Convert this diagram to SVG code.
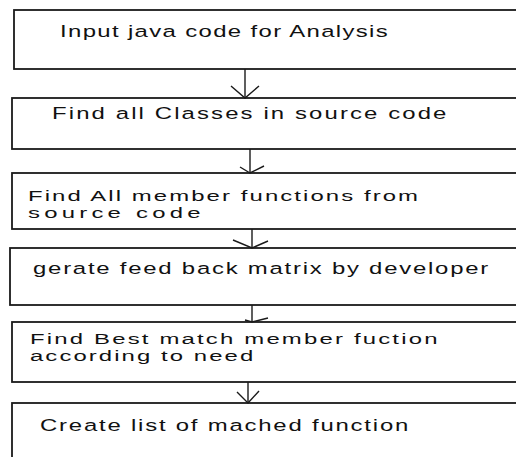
<svg xmlns="http://www.w3.org/2000/svg" width="516" height="457" viewBox="0 0 516 457">
<style>
.box{fill:#fff;stroke:#1a1a1a;stroke-width:1.8}
.lbl{font-family:"Liberation Sans",Arial,sans-serif;font-size:16.5px;fill:#111}
.con{fill:none;stroke:#1a1a1a;stroke-width:1.4}
</style>
<rect width="516" height="457" fill="#fff"/>
<g id="n1"><rect class="box" x="14" y="10" width="520" height="59"/>
<text class="lbl" transform="translate(60,37) scale(1.45,0.95)" textLength="226" lengthAdjust="spacing">Input java code for Analysis</text></g>
<g id="n2"><rect class="box" x="12" y="98" width="520" height="51"/>
<text class="lbl" transform="translate(52,119) scale(1.45,0.95)" textLength="272" lengthAdjust="spacing">Find all Classes in source code</text></g>
<g id="n3"><rect class="box" x="12" y="173" width="520" height="56"/>
<text class="lbl" transform="translate(28,201) scale(1.45,0.9)" textLength="269" lengthAdjust="spacing">Find All member functions from</text>
<text class="lbl" transform="translate(28,218) scale(1.45,0.9)" textLength="119" lengthAdjust="spacing">source code</text></g>
<g id="n4"><rect class="box" x="10" y="248" width="520" height="57"/>
<text class="lbl" transform="translate(33,274) scale(1.45,0.95)" textLength="314" lengthAdjust="spacing">gerate feed back matrix by developer</text></g>
<g id="n5"><rect class="box" x="12" y="322" width="520" height="60"/>
<text class="lbl" transform="translate(30,344) scale(1.45,0.9)" textLength="281" lengthAdjust="spacing">Find Best match member fuction</text>
<text class="lbl" transform="translate(30,361) scale(1.45,0.9)" textLength="154" lengthAdjust="spacing">according to need</text></g>
<g id="n6"><rect class="box" x="12" y="403" width="520" height="70"/>
<text class="lbl" transform="translate(40,431) scale(1.45,0.95)" textLength="254" lengthAdjust="spacing">Create list of mached function</text></g>
<g id="connectors">
<line class="con" x1="245" y1="69" x2="245" y2="98"/><polyline class="con" points="231,86 245,98 259,86"/>
<line class="con" x1="250" y1="149" x2="250" y2="173"/><polyline class="con" points="240,167 250,173 264,166"/>
<line class="con" x1="252" y1="229" x2="252" y2="248"/><polyline class="con" points="233,240 252,248 268,241"/>
<line class="con" x1="252" y1="305" x2="252" y2="322"/><polyline class="con" points="245,320 252,322 268,318"/>
<line class="con" x1="248" y1="382" x2="248" y2="403"/><polyline class="con" points="237,392 248,403 259,391"/>
</g>
</svg>
